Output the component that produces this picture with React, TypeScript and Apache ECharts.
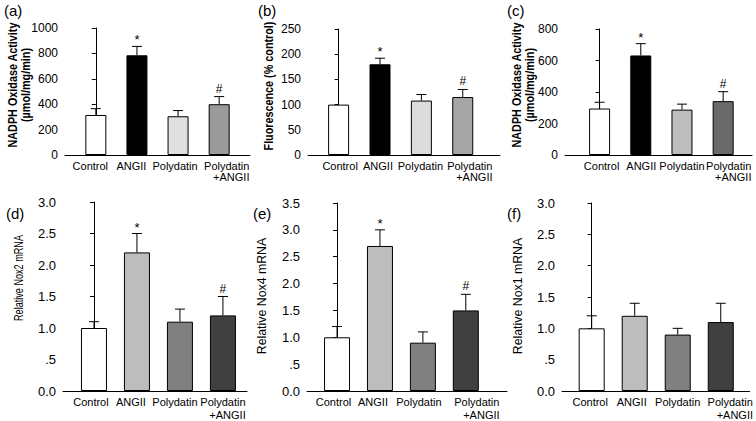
import React, { useEffect, useRef } from "react";
import * as echarts from "echarts";

const categories = ["Control", "ANGII", "Polydatin", "Polydatin\n   +ANGII"];
const panelLabels = ["(a)", "(b)", "(c)", "(d)", "(e)", "(f)"];

// (a) NADPH oxidase activity
const aMeans = [315, 785, 305, 400];
const aErrors = [50, 70, 45, 60];
const aMarks = ["", "*", "", "#"];
// (b) Fluorescence
const bMeans = [100, 180, 108, 115];
const bErrors = [0, 12, 12, 15];
const bMarks = ["", "*", "", "#"];
// (c) NADPH oxidase activity
const cMeans = [295, 632, 288, 342];
const cErrors = [40, 75, 35, 60];
const cMarks = ["", "*", "", "#"];
// (d) Nox2
const dMeans = [1.0, 2.2, 1.1, 1.2];
const dErrors = [0.1, 0.3, 0.2, 0.3];
const dMarks = ["", "*", "", "#"];
// (e) Nox4
const eMeans = [1.0, 2.7, 0.9, 1.5];
const eErrors = [0.2, 0.3, 0.2, 0.3];
const eMarks = ["", "*", "", "#"];
// (f) Nox1
const fMeans = [1.0, 1.2, 0.9, 1.1];
const fErrors = [0.2, 0.2, 0.1, 0.3];
const fMarks = ["", "", "", ""];

const yTitles = [
  "NADPH Oxidase Activity\n(µmol/mg/min)",
  "Fluorescence (% control)",
  "NADPH Oxidase Activity\n(µmol/mg/min)",
  "Relative Nox2 mRNA",
  "Relative Nox4 mRNA",
  "Relative Nox1 mRNA",
];
const yMax = [1000, 250, 800, 3.0, 3.5, 3.0];
const yInterval = [200, 50, 200, 0.5, 0.5, 0.5];

const panels = [
  { means: aMeans, errors: aErrors, marks: aMarks },
  { means: bMeans, errors: bErrors, marks: bMarks },
  { means: cMeans, errors: cErrors, marks: cMarks },
  { means: dMeans, errors: dErrors, marks: dMarks },
  { means: eMeans, errors: eErrors, marks: eMarks },
  { means: fMeans, errors: fErrors, marks: fMarks },
];

// layout & style
const FONT = "Liberation Sans, Arial, sans-serif";
const layout = [
  { left: 65, right: 250, top: 28, bottom: 155, xMin: -0.75, xMax: 3.75, barW: 21, tick: 12, lh: 11, lm: 5 },
  { left: 308, right: 500, top: 29, bottom: 155, xMin: -0.74, xMax: 3.9, barW: 21, tick: 12, lh: 11, lm: 5 },
  { left: 565, right: 752, top: 29, bottom: 155, xMin: -0.84, xMax: 3.7, barW: 21, tick: 12, lh: 11, lm: 5 },
  { left: 63, right: 247, top: 202, bottom: 392, xMin: -0.72, xMax: 3.56, barW: 26, tick: 13, lh: 13, lm: 4 },
  { left: 307, right: 507, top: 203, bottom: 392, xMin: -0.7, xMax: 3.96, barW: 26, tick: 13, lh: 13, lm: 4 },
  { left: 562, right: 750, top: 203, bottom: 392, xMin: -0.69, xMax: 3.67, barW: 26, tick: 13, lh: 13, lm: 4 },
];
// horizontal shift (px) of each category label from its bar centre
const labelShift = [
  [-5.5, -5.5, -3, 7.5],
  [1.5, -2, -1, 7],
  [2, 0.5, 0, 5.5],
  [-3, -6, -5, 0],
  [-3.5, -7, -4, 11],
  [-1.5, -3, 0, 9.5],
];
const titleLayout = [
  { cx: 19, cy: 85, size: 12, bold: true, scale: 0.9 },
  { cx: 269, cy: 86, size: 12, bold: true, scale: 0.9 },
  { cx: 523, cy: 85, size: 12, bold: true, scale: 0.9 },
  { cx: 18, cy: 278, size: 13, bold: false, scale: 0.7 },
  { cx: 262, cy: 296, size: 13, bold: false, scale: 0.95 },
  { cx: 518, cy: 296, size: 13, bold: false, scale: 0.95 },
];
const colors = [
  ["#ffffff", "#000000", "#e0e0e0", "#9a9a9a"],
  ["#ffffff", "#000000", "#dcdcdc", "#a6a6a6"],
  ["#ffffff", "#000000", "#bdbdbd", "#6a6a6a"],
  ["#ffffff", "#bdbdbd", "#808080", "#404040"],
  ["#ffffff", "#bdbdbd", "#808080", "#404040"],
  ["#ffffff", "#bdbdbd", "#808080", "#404040"],
];
const labelPos = [
  [4, 3], [258, 3], [507, 3], [6, 206], [253, 206], [507, 206],
];

const W = 756;
const H = 421;

export default function App() {
  const ref = useRef<HTMLDivElement>(null);
  useEffect(() => {
    if (!ref.current) return;
    const chart = echarts.init(ref.current, undefined, { renderer: "svg" });

    const grid: any[] = [];
    const xAxis: any[] = [];
    const yAxis: any[] = [];
    const series: any[] = [];

    layout.forEach((L, p) => {
      const pxPerUnit = (L.right - L.left) / (L.xMax - L.xMin);
      grid.push({ left: L.left, top: L.top, width: L.right - L.left, height: L.bottom - L.top });
      xAxis.push({
        type: "value",
        gridIndex: p,
        min: L.xMin,
        max: L.xMax,
        splitLine: { show: false },
        axisLine: { show: true, onZero: false, lineStyle: { color: "#000", width: 1 } },
        axisTick: { show: false },
        axisLabel: {
          customValues: categories.map((_, i) => i + labelShift[p][i] / pxPerUnit),
          formatter: (v: number) => categories[Math.round(v)] ?? "",
          hideOverlap: false,
          showMinLabel: true,
          showMaxLabel: true,
          fontSize: 11,
          fontFamily: FONT,
          color: "#000",
          margin: L.lm,
          lineHeight: L.lh,
        },
      });
      yAxis.push({
        type: "value",
        gridIndex: p,
        min: 0,
        max: yMax[p],
        interval: yInterval[p],
        splitLine: { show: false },
        axisLine: { show: true, lineStyle: { color: "#000", width: 1 } },
        axisTick: { show: true, length: 4, lineStyle: { color: "#000" } },
        axisLabel: {
          fontSize: L.tick,
          fontFamily: FONT,
          color: "#000",
          margin: 7,
          formatter: (v: number) => {
            if (p < 3) return String(v);
            if (v === 0.5) return ".5";
            return v.toFixed(1);
          },
        },
      });
      const P = panels[p];
      series.push({
        type: "bar",
        xAxisIndex: p,
        yAxisIndex: p,
        barWidth: L.barW,
        data: P.means.map((v, i) => ({
          value: [i, v],
          itemStyle: { color: colors[p][i], borderColor: "#000", borderWidth: 1 },
        })),
      });
      series.push({
        type: "custom",
        xAxisIndex: p,
        yAxisIndex: p,
        clip: false,
        data: P.means.map((v, i) => [i, v, P.errors[i]]),
        renderItem: (params: any, api: any) => {
          const x = api.value(0);
          const v = api.value(1);
          const e = api.value(2);
          const base = api.coord([x, v]);
          const top = api.coord([x, v + e]);
          const children: any[] = [];
          if (e > 0) {
            children.push({
              type: "line",
              shape: { x1: base[0], y1: base[1], x2: top[0], y2: top[1] },
              style: { stroke: "#000", lineWidth: 1 },
            });
            children.push({
              type: "line",
              shape: { x1: top[0] - 5, y1: top[1], x2: top[0] + 5, y2: top[1] },
              style: { stroke: "#000", lineWidth: 1 },
            });
          }
          const mark = P.marks[params.dataIndex];
          if (mark) {
            children.push({
              type: "text",
              x: top[0],
              y: top[1] - (mark === "*" ? 0 : 2),
              style: {
                text: mark,
                textAlign: "center",
                textVerticalAlign: "bottom",
                fontSize: mark === "*" ? 13 : 12,
                fontFamily: FONT,
                fill: "#000",
              },
            });
          }
          return { type: "group", children };
        },
      });
    });

    const graphic: any[] = panelLabels.map((t, i) => ({
      type: "text",
      left: labelPos[i][0],
      top: labelPos[i][1],
      style: { text: t, fontSize: 15, fontFamily: FONT, fill: "#000" },
    }));
    titleLayout.forEach((T, i) => {
      graphic.push({
        type: "text",
        x: T.cx,
        y: T.cy,
        rotation: Math.PI / 2,
        scaleX: T.scale,
        scaleY: 1,
        style: {
          text: yTitles[i],
          textAlign: "center",
          textVerticalAlign: "middle",
          fontSize: T.size,
          fontWeight: T.bold ? "bold" : "normal",
          fontFamily: FONT,
          lineHeight: 13,
          fill: "#000",
        },
      });
    });

    chart.setOption({
      animation: false,
      backgroundColor: "#ffffff",
      grid,
      xAxis,
      yAxis,
      series,
      graphic,
    });
    return () => chart.dispose();
  }, []);
  return (
    <div
      ref={ref}
      style={{ position: "absolute", left: 0, top: 0, width: W, height: H }}
    />
  );
}
